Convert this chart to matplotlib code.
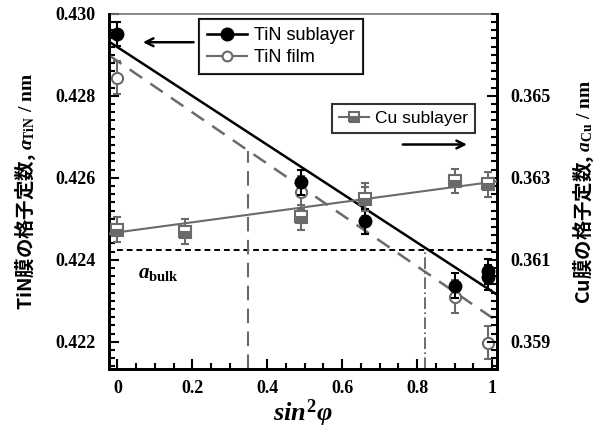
import matplotlib
matplotlib.use("Agg")
import matplotlib.pyplot as plt
from matplotlib.ticker import MultipleLocator, FormatStrFormatter
import numpy as np

plt.rcParams['font.family'] = ['Liberation Serif', 'DejaVu Serif']
plt.rcParams['mathtext.fontset'] = 'custom'
plt.rcParams['mathtext.rm'] = 'Liberation Serif:bold'
plt.rcParams['mathtext.it'] = 'Liberation Serif:bold:italic'
plt.rcParams['mathtext.bf'] = 'Liberation Serif:bold'

# measured points (sin^2 psi, lattice constant in nm)
sub_x = [0.0, 0.49, 0.66, 0.90, 0.99, 0.99]
sub_y = [0.42951, 0.42589, 0.42494, 0.42337, 0.42372, 0.42357]
sub_err = 0.0003

film_x = [0.0, 0.49, 0.66, 0.90, 0.99]
film_y = [0.42844, 0.42565, 0.42548, 0.42310, 0.42198]
film_err = 0.0004

cu_x = [0.0, 0.18, 0.49, 0.66, 0.90, 0.99]
cu_y = [0.36174, 0.36169, 0.36204, 0.36248, 0.36292, 0.36284]
cu_err = 0.0003

# straight-line fits (intercept, slope)
sub_fit = (0.42919, -0.00596)
film_fit = (0.42885, -0.00626)
cu_fit = (0.36167, 0.00123)

a_bulk = 0.42425
psi_free = 0.35     # strain-free direction of TiN film
psi_bulk = 0.82     # where sublayer fit meets a_bulk

xlim = (-0.022, 1.013)
ylim_left = (0.42134, 0.4300)
cu_offset = 0.063   # right axis = left axis - offset

fig = plt.figure(figsize=(6.06, 4.32), dpi=100)
ax = fig.add_axes([0.180, 0.146, 0.640, 0.822])
ax2 = ax.twinx()

gray = '#6a6a6a'
xx = np.array(xlim)

# fit lines
ax.plot(xx, sub_fit[0] + sub_fit[1] * xx, color='black', lw=1.8, zorder=3)
ax.plot(xx, film_fit[0] + film_fit[1] * xx, color=gray, lw=1.8, ls=(0, (6, 4)), zorder=3)
ax2.plot(xx, cu_fit[0] + cu_fit[1] * xx, color=gray, lw=1.5, zorder=3)

# a_bulk reference and construction lines
ax.hlines(a_bulk, 0, xlim[1], colors='black', lw=1.4, linestyles=(0, (3, 2)))
ax.vlines(psi_free, ylim_left[0], film_fit[0] + film_fit[1] * psi_free,
          colors=gray, lw=1.5, linestyles=(0, (7, 4)))
ax.vlines(psi_bulk, ylim_left[0], sub_fit[0] + sub_fit[1] * psi_bulk,
          colors='#555555', lw=1.2, linestyles=(0, (7, 2, 1, 2)))

# data with error bars
ax.errorbar(film_x, film_y, yerr=film_err, fmt='o', ms=8, mfc='white', mec=gray,
            mew=1.5, ecolor=gray, elinewidth=1.5, capsize=3, capthick=1.5, zorder=4)
ax.errorbar(sub_x, sub_y, yerr=sub_err, fmt='o', ms=9, color='black',
            ecolor='black', elinewidth=1.5, capsize=3, capthick=1.5, zorder=5)
ax2.errorbar(cu_x, cu_y, yerr=cu_err, fmt='s', ms=8, mfc=gray, mfcalt='white',
             fillstyle='bottom', mec=gray, mew=1.5, ecolor=gray, elinewidth=1.5,
             capsize=3, capthick=1.5, zorder=4)

ax.set_xlim(*xlim)
ax.set_ylim(*ylim_left)
ax2.set_ylim(ylim_left[0] - cu_offset, ylim_left[1] - cu_offset)

ax.xaxis.set_minor_locator(MultipleLocator(0.05))
ax.set_xticks([0, 0.2, 0.4, 0.6, 0.8, 1.0])
ax.set_xticklabels(['0', '0.2', '0.4', '0.6', '0.8', '1'])
ax.yaxis.set_major_locator(MultipleLocator(0.002))
ax.yaxis.set_minor_locator(MultipleLocator(0.0002))
ax.yaxis.set_major_formatter(FormatStrFormatter('%.3f'))
ax2.set_yticks([0.359, 0.361, 0.363, 0.365])
ax2.yaxis.set_minor_locator(MultipleLocator(0.0002))
ax2.yaxis.set_major_formatter(FormatStrFormatter('%.3f'))

for a in (ax, ax2):
    a.tick_params(which='both', direction='in', labelsize=13, width=1.5)
    a.tick_params(which='major', length=7)
    a.tick_params(which='minor', length=4)
    for t in a.get_xticklabels() + a.get_yticklabels():
        t.set_fontweight('bold')
ax.tick_params(axis='y', pad=10)
ax.tick_params(axis='x', pad=8, top=False)
ax.tick_params(axis='y', which='both', right=False)
ax2.tick_params(axis='y', pad=10)

for s in ('left', 'bottom', 'right'):
    ax.spines[s].set_linewidth(2)
    ax2.spines[s].set_linewidth(2)
ax.spines['top'].set_linewidth(1.2)
ax.spines['top'].set_color('#777777')
ax2.spines['top'].set_visible(False)

cjk = ['Noto Sans CJK JP', 'DejaVu Sans']
ax.set_ylabel(r'TiN膜の格子定数, $a_{\rm TiN}\ /\ {\rm nm}$', family=cjk,
              fontsize=14, fontweight='bold', labelpad=12)
ax2.set_ylabel(r'Cu膜の格子定数, $a_{\rm Cu}\ /\ {\rm nm}$', family=cjk,
               fontsize=14, fontweight='bold', rotation=90, labelpad=14)
ax.set_xlabel(r'$sin^{2}\varphi$', fontsize=19, labelpad=0)

ax.text(0.075, 0.268, r'$a_{\rm bulk}$', transform=ax.transAxes, fontsize=15,
        ha='left', va='center')

# legends
sans = ['Liberation Sans', 'DejaVu Sans']
h_sub = ax.plot([], [], '-o', color='black', ms=9, lw=1.8)[0]
h_film = ax.plot([], [], '-o', color=gray, mfc='white', mec=gray, mew=1.5, ms=7, lw=1.5)[0]
h_cu = ax.plot([], [], '-s', color=gray, mfc=gray, mfcalt='white', fillstyle='bottom',
               mec=gray, mew=1.5, ms=7, lw=1.5)[0]
leg1 = ax.legend([h_sub, h_film], ['TiN sublayer', 'TiN film'], loc='upper left',
                 bbox_to_anchor=(0.232, 0.986), borderaxespad=0, frameon=True,
                 fancybox=False, edgecolor='black', handlelength=2.2, handletextpad=0.4,
                 borderpad=0.45, labelspacing=0.3, prop={'family': sans, 'size': 13})
leg1.get_frame().set_linewidth(1.5)
ax.add_artist(leg1)
leg2 = ax2.legend([h_cu], ['Cu sublayer'], loc='upper left',
                  bbox_to_anchor=(0.575, 0.746), borderaxespad=0, frameon=True,
                  fancybox=False, edgecolor='black', handlelength=1.7, handletextpad=0.4,
                  borderpad=0.4, prop={'family': sans, 'size': 12.5})
leg2.get_frame().set_linewidth(1.5)

# arrows pointing to the relevant axis
ax.annotate('', xy=(0.08, 0.92), xytext=(0.225, 0.92), xycoords='axes fraction',
            arrowprops=dict(arrowstyle='->', lw=1.8, color='black', mutation_scale=14))
ax.annotate('', xy=(0.93, 0.632), xytext=(0.75, 0.632), xycoords='axes fraction',
            arrowprops=dict(arrowstyle='->', lw=1.8, color='black', mutation_scale=14))

fig.savefig('out.png', dpi=100)
